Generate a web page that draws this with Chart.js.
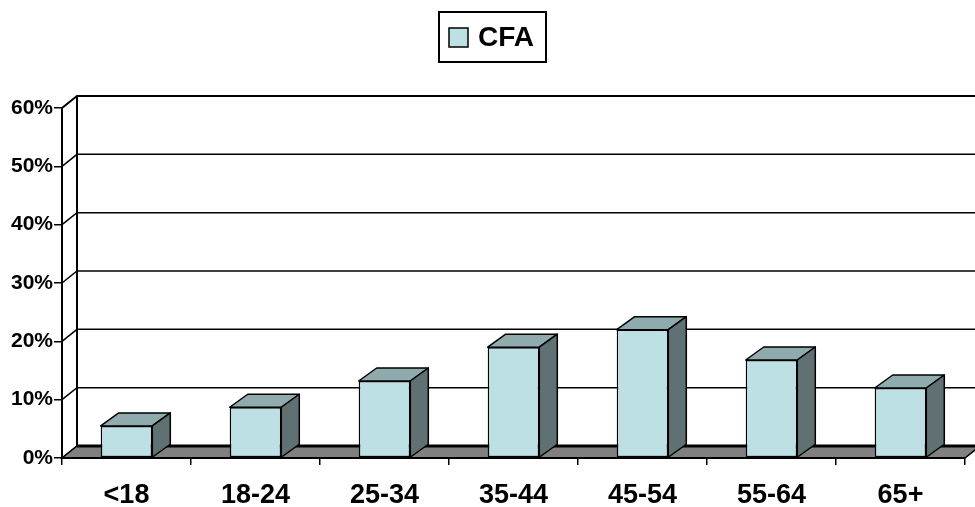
<!DOCTYPE html>
<html>
<head>
<meta charset="utf-8">
<script src="https://cdn.jsdelivr.net/npm/chart.js@4.4.1/dist/chart.umd.min.js"></script>
<style>
  html, body { margin: 0; padding: 0; background: #fff; }
  #wrap { width: 975px; height: 507px; }
</style>
</head>
<body>
<div id="wrap"><canvas id="age-chart" width="975" height="507"></canvas></div>
<script>
// Data
const ageGroups = ['<18', '18-24', '25-34', '35-44', '45-54', '55-64', '65+'];
const cfaShare = [5.5, 8.7, 13.2, 19, 22, 16.8, 12];
const percentTicks = [0, 10, 20, 30, 40, 50, 60];
const seriesName = 'CFA';

// Colours + 3D look
const frontColor = '#BCE0E3';
const topColor = '#8FABAD';
const sideColor = '#5F7172';
const floorColor = '#808080';
const wallDX = 15, wallDY = 12;
const barDX = 18, barDY = 13;
const font = 'Arial, "Liberation Sans", sans-serif';

// ---------- draws the walls, gridlines and floor behind the bars
const wallsPlugin = {
    id: 'walls',
    beforeDatasetsDraw(chart) {
        const { ctx, chartArea: a, scales: { y } } = chart;
        const maxTick = percentTicks[percentTicks.length - 1];
        ctx.save();
        ctx.strokeStyle = '#000';
        ctx.lineCap = 'butt';

        percentTicks.forEach(t => {
            const py = y.getPixelForValue(t);
            ctx.lineWidth = t === maxTick ? 2 : 1.5;
            ctx.beginPath();
            ctx.moveTo(a.left, py);
            ctx.lineTo(a.left + wallDX, py - wallDY);
            ctx.lineTo(chart.width, py - wallDY);
            ctx.stroke();
        });

        // back wall edge
        ctx.lineWidth = 2;
        ctx.beginPath();
        ctx.moveTo(a.left + wallDX, a.top - wallDY);
        ctx.lineTo(a.left + wallDX, a.bottom - wallDY);
        ctx.stroke();

        // floor
        ctx.beginPath();
        ctx.moveTo(a.left, a.bottom);
        ctx.lineTo(a.right, a.bottom);
        ctx.lineTo(a.right + wallDX, a.bottom - wallDY);
        ctx.lineTo(a.left + wallDX, a.bottom - wallDY);
        ctx.closePath();
        ctx.fillStyle = floorColor;
        ctx.fill();
        ctx.lineWidth = 1.5;
        ctx.stroke();

        ctx.lineWidth = 3;
        ctx.beginPath();
        ctx.moveTo(a.left + wallDX, a.bottom - wallDY);
        ctx.lineTo(chart.width, a.bottom - wallDY);
        ctx.stroke();

        // front axes
        ctx.lineWidth = 2;
        ctx.beginPath();
        ctx.moveTo(a.left, a.top);
        ctx.lineTo(a.left, a.bottom);
        ctx.lineTo(a.right, a.bottom);
        ctx.stroke();
        ctx.restore();
    },

    // ---------- top and side faces of each bar
    afterDatasetsDraw(chart) {
        const { ctx } = chart;
        const meta = chart.getDatasetMeta(0);
        ctx.save();
        ctx.strokeStyle = '#000';
        ctx.lineWidth = 1.5;
        ctx.lineJoin = 'round';
        meta.data.forEach(bar => {
            const p = bar.getProps(['x', 'y', 'base', 'width'], true);
            const left = p.x - p.width / 2;
            const right = p.x + p.width / 2;

            ctx.beginPath();
            ctx.moveTo(left, p.y);
            ctx.lineTo(left + barDX, p.y - barDY);
            ctx.lineTo(right + barDX, p.y - barDY);
            ctx.lineTo(right, p.y);
            ctx.closePath();
            ctx.fillStyle = topColor;
            ctx.fill();
            ctx.stroke();

            ctx.beginPath();
            ctx.moveTo(right, p.y);
            ctx.lineTo(right + barDX, p.y - barDY);
            ctx.lineTo(right + barDX, p.base - barDY);
            ctx.lineTo(right, p.base);
            ctx.closePath();
            ctx.fillStyle = sideColor;
            ctx.fill();
            ctx.stroke();
        });
        ctx.restore();
    },

    // ---------- boxed legend
    afterDraw(chart) {
        const { ctx } = chart;
        ctx.save();
        ctx.strokeStyle = '#000';
        ctx.lineWidth = 2;
        ctx.strokeRect(439, 12, 107, 50);
        ctx.fillStyle = frontColor;
        ctx.fillRect(449, 28, 19, 19);
        ctx.lineWidth = 1.5;
        ctx.strokeRect(449, 28, 19, 19);
        ctx.fillStyle = '#000';
        ctx.font = 'bold 28px ' + font;
        ctx.textBaseline = 'middle';
        ctx.textAlign = 'left';
        ctx.fillText(chart.data.datasets[0].label, 478, 38);
        ctx.restore();
    }
};

const ctx = document.getElementById('age-chart');
const ageChart = new Chart(ctx, {
    type: 'bar',
    data: {
        labels: ageGroups,
        datasets: [{
            label: seriesName,
            data: cfaShare,
            backgroundColor: frontColor,
            borderColor: '#000',
            borderWidth: 1.5,
            borderSkipped: false,
            barPercentage: 0.4,
            categoryPercentage: 1
        }]
    },
    options: {
        responsive: false,
        animation: false,
        layout: { padding: { top: 108, right: 10, left: 0, bottom: 0 } },
        plugins: {
            legend: { display: false },
            tooltip: { enabled: false }
        },
        scales: {
            x: {
                afterFit: s => { s.height = 49; },
                border: { display: false },
                grid: {
                    offset: true,
                    drawOnChartArea: false,
                    tickLength: 7,
                    color: '#000',
                    lineWidth: 1.5
                },
                ticks: {
                    color: '#000',
                    padding: 14,
                    maxRotation: 0,
                    font: { family: font, size: 27, weight: 'bold' }
                }
            },
            y: {
                min: percentTicks[0],
                max: percentTicks[percentTicks.length - 1],
                afterFit: s => { s.width = 62; },
                afterBuildTicks: s => { s.ticks = percentTicks.map(v => ({ value: v })); },
                border: { display: false },
                grid: {
                    drawOnChartArea: false,
                    tickLength: 8,
                    color: '#000',
                    lineWidth: 1.5
                },
                ticks: {
                    color: '#000',
                    padding: 1,
                    callback: v => v + '%',
                    font: { family: font, size: 21, weight: 'bold' }
                }
            }
        }
    },
    plugins: [wallsPlugin]
});
</script>
</body>
</html>
